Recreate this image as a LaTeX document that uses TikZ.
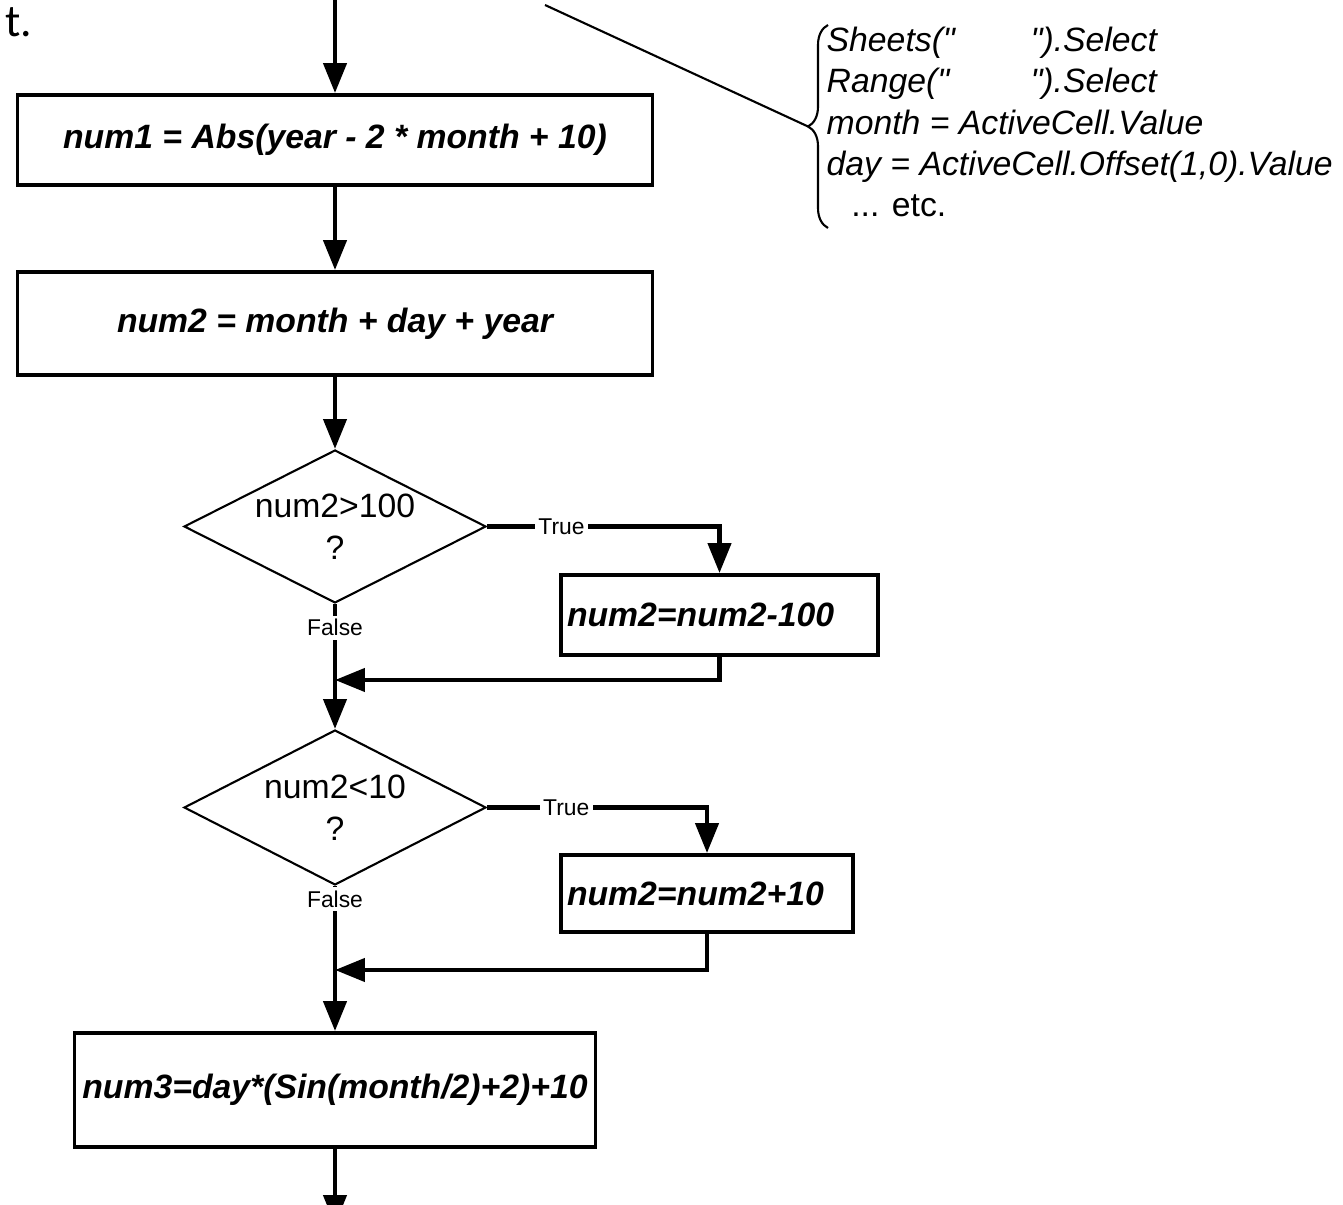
\documentclass[tikz,border=0pt]{standalone}
\usepackage{fontspec}
\setmainfont{Liberation Sans}
\newfontfamily\notefont{Carlito}
\usetikzlibrary{shapes.geometric,arrows.meta,decorations.pathreplacing}

\begin{document}
\begin{tikzpicture}[
    >={Triangle[length=8.5pt,width=6.5pt]},
    font=\fontsize{9.6}{12}\selectfont,
    box/.style={rectangle, draw, line width=1.1pt, inner sep=0.06cm,
                font=\fontsize{9.6}{12}\selectfont\bfseries\itshape},
    decision/.style={diamond, draw, line width=0.6pt, aspect=2, inner sep=0pt, align=center},
    lbl/.style={fill=white, inner sep=1pt, font=\fontsize{6.5}{7}\selectfont},
    flow/.style={->, line width=1.3pt}]
    \useasboundingbox (0,0) rectangle (13.43,-12.05);

    \node (cut) [anchor=base west, font=\notefont\fontsize{13}{15}\selectfont] at (-0.07,-0.37) {t.};

    \node[box, minimum width=6.35cm, minimum height=0.90cm] (num1) at (3.35,-1.40) {num1 = Abs(year - 2 * month + 10)};
    \node[box, minimum width=6.35cm, minimum height=1.03cm] (num2) at (3.35,-3.235) {num2 = month + day + year};
    \node[decision, minimum width=3.02cm, minimum height=1.53cm] (big) at (3.35,-5.265) {num2>100\\?};
    \node[box, text width=3.05cm, minimum height=0.80cm] (sub) at (7.195,-6.15) {num2=num2-100};
    \node[decision, minimum width=3.02cm, minimum height=1.55cm] (small) at (3.35,-8.075) {num2<10\\?};
    \node[box, text width=2.80cm, minimum height=0.77cm] (add) at (7.07,-8.935) {num2=num2+10};
    \node[box, minimum width=5.21cm, minimum height=1.14cm] (num3) at (3.35,-10.90) {num3=day*(Sin(month/2)+2)+10};

    \coordinate (in) at (3.35,0);
    \coordinate (out) at (3.35,-12.25);
    \coordinate (join1) at (3.35,-6.80);
    \coordinate (join2) at (3.35,-9.70);
    \coordinate (lead) at (5.45,-0.05);
    \coordinate (tip) at (8.08,-1.265);

    % code note on the right
    \node (note) [anchor=west, align=left, inner sep=0pt, font=\fontsize{9.6}{11.7}\selectfont\itshape] at (8.26,-1.22)
        {\makebox[58pt][l]{Sheets(\textquotedbl}\textquotedbl).Select\\
         \makebox[58pt][l]{Range(\textquotedbl}\textquotedbl).Select\\
         month = ActiveCell.Value\\
         day = ActiveCell.Offset(1,0).Value\\
         \hspace{7pt}\upshape ... etc.};
    \draw[line width=0.6pt, decorate, decoration={brace, amplitude=0.2cm}] (8.28,-2.28) -- (8.28,-0.25);
    \draw[line width=0.6pt] (lead) -- (tip);

    \draw[flow] (in) -- (num1);
    \draw[flow] (num1) -- (num2);
    \draw[flow] (num2) -- (big);
    \draw[flow] (big.east) -| node[lbl, pos=0.16] (true1) {True} (sub.north);
    \draw[flow] (sub.south) |- (join1);
    \draw[flow] (big.south) -- node[lbl, pos=0.19] (false1) {False} (small.north);
    \draw[flow] (small.east) -| node[lbl, pos=0.18] (true2) {True} (add.north);
    \draw[flow] (add.south) |- (join2);
    \draw[flow] (small.south) -- node[lbl, pos=0.09] (false2) {False} (num3.north);
    \draw[flow] (num3) -- (out);
\end{tikzpicture}
\end{document}
